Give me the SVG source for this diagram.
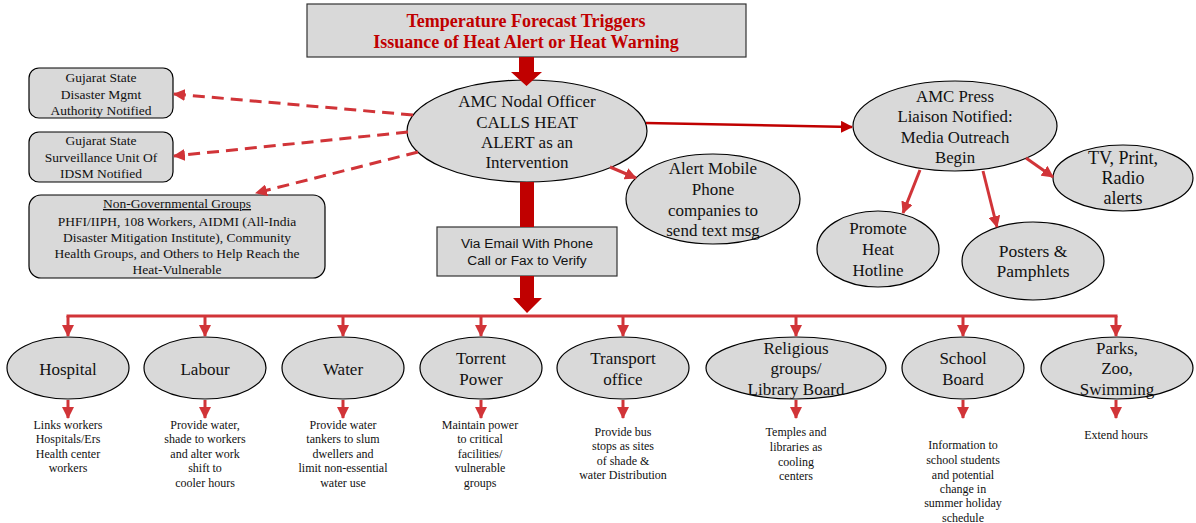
<svg xmlns="http://www.w3.org/2000/svg" width="1196" height="523" viewBox="0 0 1196 523">
<style>
.bg{fill:#ffffff}
.nd{fill:#d9d9d9;stroke:#000;stroke-width:1.2}
.t{font-family:"Liberation Serif","Times New Roman",serif;fill:#111;text-anchor:middle}
.s{font-family:"Liberation Sans",Arial,sans-serif;fill:#111;text-anchor:middle}
.f17{font-size:17px}
.f16{font-size:16.8px}
.f13{font-size:13.5px}
.f12{font-size:12px}
.ttl{font-family:"Liberation Serif","Times New Roman",serif;font-weight:bold;font-size:18px;fill:#c00000;text-anchor:middle}
.c{stroke:#d13438;stroke-width:3;fill:none}
.cd{stroke:#d13438;stroke-width:3;fill:none;stroke-dasharray:12 7}
.cdk{stroke:#c00000;stroke-width:2.5;fill:none}
.thick{fill:#c00000}
</style>
<defs>
<marker id="ah" markerUnits="userSpaceOnUse" markerWidth="12" markerHeight="12" refX="11" refY="6" orient="auto">
<path d="M0,0 L12,6 L0,12 z" fill="#d13438"/>
</marker>
<marker id="ahd" markerUnits="userSpaceOnUse" markerWidth="12" markerHeight="12" refX="11" refY="6" orient="auto">
<path d="M0,0 L12,6 L0,12 z" fill="#c00000"/>
</marker>
</defs>
<rect class="bg" x="0" y="0" width="1196" height="523"/>

<g id="title">
<rect x="307" y="4" width="439" height="53" fill="#d9d9d9" stroke="#333" stroke-width="1.2"/>
<text class="ttl" x="526" y="27">Temperature Forecast Triggers</text>
<text class="ttl" x="526" y="48">Issuance of Heat Alert or Heat Warning</text>
</g>

<g id="nodal">
<ellipse class="nd" cx="527" cy="131" rx="120" ry="51"/>
<text class="t f17" x="527" y="107">AMC Nodal Officer</text>
<text class="t f17" x="527" y="127.5">CALLS HEAT</text>
<text class="t f17" x="527" y="148">ALERT as an</text>
<text class="t f17" x="527" y="168">Intervention</text>
</g>

<g id="gsdma">
<rect class="nd" x="29" y="68" width="144" height="50" rx="10"/>
<text class="t f13" x="101" y="82">Gujarat State</text>
<text class="t f13" x="101" y="99">Disaster Mgmt</text>
<text class="t f13" x="101" y="115">Authority Notified</text>
</g>

<g id="idsm">
<rect class="nd" x="29" y="132" width="144" height="50" rx="10"/>
<text class="t f13" x="101" y="145">Gujarat State</text>
<text class="t f13" x="101" y="162">Surveillance Unit Of</text>
<text class="t f13" x="101" y="178">IDSM Notified</text>
</g>

<g id="ngo">
<rect class="nd" x="29" y="195" width="296" height="83" rx="12"/>
<text class="t f13" x="177" y="208" text-decoration="underline">Non-Governmental  Groups</text>
<text class="t f13" x="177" y="226">PHFI/IIPH, 108 Workers, AIDMI (All-India</text>
<text class="t f13" x="177" y="242">Disaster Mitigation Institute), Community</text>
<text class="t f13" x="177" y="258">Health Groups, and Others to Help Reach the</text>
<text class="t f13" x="177" y="274">Heat-Vulnerable</text>
</g>

<g id="mobile">
<ellipse class="nd" cx="713" cy="199" rx="87" ry="45"/>
<text class="t f17" x="713" y="174">Alert Mobile</text>
<text class="t f17" x="713" y="195">Phone</text>
<text class="t f17" x="713" y="216">companies to</text>
<text class="t f17" x="713" y="236">send text msg</text>
</g>

<g id="email">
<rect x="437" y="227" width="180" height="49" fill="#d9d9d9" stroke="#333" stroke-width="1.2"/>
<text class="s" font-size="13.7" x="527" y="248">Via Email With Phone</text>
<text class="s" font-size="13.7" x="527" y="265">Call or Fax to Verify</text>
</g>

<g id="press">
<ellipse class="nd" cx="955" cy="126" rx="102" ry="45"/>
<text class="t f16" x="955" y="102">AMC Press</text>
<text class="t f16" x="955" y="122">Liaison Notified:</text>
<text class="t f16" x="955" y="143">Media Outreach</text>
<text class="t f16" x="955" y="163">Begin</text>
</g>

<g id="tv">
<ellipse class="nd" cx="1123" cy="178" rx="70" ry="33"/>
<text class="t" font-size="18" x="1123" y="164">TV, Print,</text>
<text class="t" font-size="18" x="1123" y="184">Radio</text>
<text class="t" font-size="18" x="1123" y="204">alerts</text>
</g>

<g id="hotline">
<ellipse class="nd" cx="878" cy="249" rx="61" ry="38"/>
<text class="t f17" x="878" y="234">Promote</text>
<text class="t f17" x="878" y="255">Heat</text>
<text class="t f17" x="878" y="276">Hotline</text>
</g>

<g id="posters">
<ellipse class="nd" cx="1033" cy="261" rx="71" ry="39"/>
<text class="t" font-size="17.5" x="1033" y="257">Posters &amp;</text>
<text class="t" font-size="17.5" x="1033" y="277">Pamphlets</text>
</g>

<g id="hospital">
<ellipse class="nd" cx="68" cy="368" rx="61" ry="31"/>
<text class="t f17" x="68" y="375">Hospital</text>
<text class="t f12" x="68" y="429">Links workers</text>
<text class="t f12" x="68" y="443">Hospitals/Ers</text>
<text class="t f12" x="68" y="458">Health center</text>
<text class="t f12" x="68" y="472">workers</text>
</g>

<g id="labour">
<ellipse class="nd" cx="205" cy="368" rx="61" ry="31"/>
<text class="t f17" x="205" y="375">Labour</text>
<text class="t f12" x="205" y="429">Provide water,</text>
<text class="t f12" x="205" y="443">shade to workers</text>
<text class="t f12" x="205" y="458">and alter work</text>
<text class="t f12" x="205" y="472">shift to</text>
<text class="t f12" x="205" y="487">cooler hours</text>
</g>

<g id="water">
<ellipse class="nd" cx="343" cy="368" rx="61" ry="31"/>
<text class="t f17" x="343" y="375">Water</text>
<text class="t f12" x="343" y="429">Provide water</text>
<text class="t f12" x="343" y="443">tankers to slum</text>
<text class="t f12" x="343" y="458">dwellers and</text>
<text class="t f12" x="343" y="472">limit non-essential</text>
<text class="t f12" x="343" y="487">water use</text>
</g>

<g id="torrent">
<ellipse class="nd" cx="481" cy="368" rx="61" ry="31"/>
<text class="t f17" x="481" y="364">Torrent</text>
<text class="t f17" x="481" y="385">Power</text>
<text class="t f12" x="480" y="429">Maintain power</text>
<text class="t f12" x="480" y="443">to critical</text>
<text class="t f12" x="480" y="458">facilities/</text>
<text class="t f12" x="480" y="472">vulnerable</text>
<text class="t f12" x="480" y="487">groups</text>
</g>

<g id="transport">
<ellipse class="nd" cx="623" cy="368" rx="66" ry="31"/>
<text class="t f17" x="623" y="364">Transport</text>
<text class="t f17" x="623" y="385">office</text>
<text class="t f12" x="623" y="436">Provide bus</text>
<text class="t f12" x="623" y="450">stops as sites</text>
<text class="t f12" x="623" y="465">of shade &amp;</text>
<text class="t f12" x="623" y="479">water Distribution</text>
</g>

<g id="religious">
<ellipse class="nd" cx="796" cy="368" rx="90" ry="31"/>
<text class="t f17" x="796" y="354">Religious</text>
<text class="t f17" x="796" y="374">groups/</text>
<text class="t f17" x="796" y="395">Library Board</text>
<text class="t f12" x="796" y="436">Temples and</text>
<text class="t f12" x="796" y="451">libraries as</text>
<text class="t f12" x="796" y="466">cooling</text>
<text class="t f12" x="796" y="480">centers</text>
</g>

<g id="school">
<ellipse class="nd" cx="963" cy="368" rx="61" ry="31"/>
<text class="t f17" x="963" y="364">School</text>
<text class="t f17" x="963" y="385">Board</text>
<text class="t f12" x="963" y="449">Information to</text>
<text class="t f12" x="963" y="464">school students</text>
<text class="t f12" x="963" y="479">and potential</text>
<text class="t f12" x="963" y="493">change in</text>
<text class="t f12" x="963" y="507">summer holiday</text>
<text class="t f12" x="963" y="522">schedule</text>
</g>

<g id="parks">
<ellipse class="nd" cx="1117" cy="368" rx="76" ry="31"/>
<text class="t f17" x="1117" y="354">Parks,</text>
<text class="t f17" x="1117" y="374">Zoo,</text>
<text class="t f17" x="1117" y="395">Swimming</text>
<text class="t f12" x="1116" y="439">Extend hours</text>
</g>

<g id="connectors">
<polygon class="thick" points="519,57 534,57 534,72 542,72 526.5,86 511,72 519,72"/>
<rect class="thick" x="520" y="182" width="14" height="45"/>
<polygon class="thick" points="520,276 534,276 534,298 542,298 527,313 513,298 520,298"/>
<line class="cd" x1="413" y1="115" x2="174" y2="94" marker-end="url(#ah)"/>
<line class="cd" x1="408" y1="132" x2="174" y2="156" marker-end="url(#ah)"/>
<line class="cd" x1="418" y1="152" x2="256" y2="193" marker-end="url(#ah)"/>
<line class="cdk" x1="646" y1="123" x2="852" y2="127" marker-end="url(#ahd)"/>
<line class="c" x1="610" y1="167" x2="636" y2="178" marker-end="url(#ah)"/>
<line class="c" x1="920" y1="170" x2="903" y2="213" marker-end="url(#ah)"/>
<line class="c" x1="983" y1="171" x2="997" y2="227" marker-end="url(#ah)"/>
<line class="c" x1="1026" y1="158" x2="1053" y2="177" marker-end="url(#ah)"/>
<line class="c" x1="66.5" y1="316" x2="1117.5" y2="316"/>
<line class="c" x1="68" y1="316" x2="68" y2="336" marker-end="url(#ah)"/>
<line class="c" x1="205" y1="316" x2="205" y2="336" marker-end="url(#ah)"/>
<line class="c" x1="343" y1="316" x2="343" y2="336" marker-end="url(#ah)"/>
<line class="c" x1="481" y1="316" x2="481" y2="336" marker-end="url(#ah)"/>
<line class="c" x1="623" y1="316" x2="623" y2="336" marker-end="url(#ah)"/>
<line class="c" x1="796" y1="316" x2="796" y2="336" marker-end="url(#ah)"/>
<line class="c" x1="963" y1="316" x2="963" y2="336" marker-end="url(#ah)"/>
<line class="c" x1="1116" y1="316" x2="1116" y2="336" marker-end="url(#ah)"/>
<line class="c" x1="68" y1="400" x2="68" y2="418" marker-end="url(#ah)"/>
<line class="c" x1="205" y1="400" x2="205" y2="418" marker-end="url(#ah)"/>
<line class="c" x1="343" y1="400" x2="343" y2="418" marker-end="url(#ah)"/>
<line class="c" x1="481" y1="400" x2="481" y2="418" marker-end="url(#ah)"/>
<line class="c" x1="623" y1="400" x2="623" y2="418" marker-end="url(#ah)"/>
<line class="c" x1="796" y1="400" x2="796" y2="418" marker-end="url(#ah)"/>
<line class="c" x1="963" y1="400" x2="963" y2="418" marker-end="url(#ah)"/>
<line class="c" x1="1116" y1="400" x2="1116" y2="418" marker-end="url(#ah)"/>
</g>
</svg>
